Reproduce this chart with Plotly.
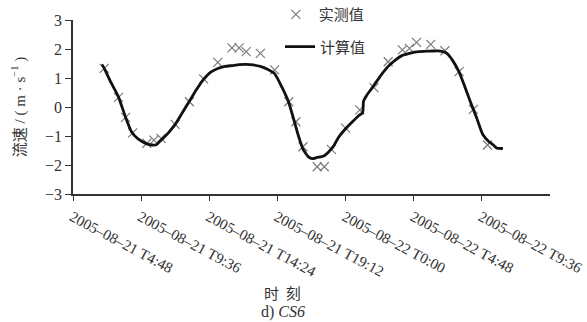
import plotly.graph_objects as go

# Observed (实测值)
obs_time = [
    "2005-08-21 07:00", "2005-08-21 08:00", "2005-08-21 08:30", "2005-08-21 09:00",
    "2005-08-21 10:00", "2005-08-21 10:30", "2005-08-21 11:00", "2005-08-21 12:00",
    "2005-08-21 13:00", "2005-08-21 14:00", "2005-08-21 15:00", "2005-08-21 16:00",
    "2005-08-21 16:30", "2005-08-21 17:00", "2005-08-21 18:00", "2005-08-21 19:00",
    "2005-08-21 20:00", "2005-08-21 20:30", "2005-08-21 21:00", "2005-08-21 22:00",
    "2005-08-21 22:30", "2005-08-21 23:00", "2005-08-22 00:00", "2005-08-22 01:00",
    "2005-08-22 02:00", "2005-08-22 03:00", "2005-08-22 04:00", "2005-08-22 04:30",
    "2005-08-22 05:00", "2005-08-22 06:00", "2005-08-22 07:00", "2005-08-22 08:00",
    "2005-08-22 09:00", "2005-08-22 10:00",
]
obs_val = [
    1.33, 0.33, -0.36, -0.89,
    -1.25, -1.14, -1.08, -0.60,
    0.18, 0.97, 1.54, 2.04,
    2.04, 1.91, 1.85, 1.28,
    0.18, -0.51, -1.37, -2.06,
    -2.06, -1.46, -0.73, -0.10,
    0.67, 1.56, 1.97, 2.02,
    2.23, 2.16, 1.94, 1.22,
    -0.08, -1.31,
]

# Computed (计算值)
calc_time = [
    "2005-08-21 06:50", "2005-08-21 07:00", "2005-08-21 07:25", "2005-08-21 08:00",
    "2005-08-21 08:30", "2005-08-21 08:55", "2005-08-21 09:23", "2005-08-21 10:00",
    "2005-08-21 10:23", "2005-08-21 10:40", "2005-08-21 11:00", "2005-08-21 11:30",
    "2005-08-21 12:00", "2005-08-21 12:30", "2005-08-21 13:00", "2005-08-21 13:30",
    "2005-08-21 14:00", "2005-08-21 14:30", "2005-08-21 15:00", "2005-08-21 15:30",
    "2005-08-21 16:00", "2005-08-21 16:30", "2005-08-21 17:00", "2005-08-21 17:30",
    "2005-08-21 18:00", "2005-08-21 18:30", "2005-08-21 19:00", "2005-08-21 19:30",
    "2005-08-21 20:00", "2005-08-21 20:20", "2005-08-21 20:41", "2005-08-21 21:00",
    "2005-08-21 21:23", "2005-08-21 21:40", "2005-08-21 22:00", "2005-08-21 22:14",
    "2005-08-21 22:30", "2005-08-21 22:48", "2005-08-21 23:09", "2005-08-21 23:30",
    "2005-08-22 00:00", "2005-08-22 00:30", "2005-08-22 00:55", "2005-08-22 01:12",
    "2005-08-22 01:16", "2005-08-22 01:29", "2005-08-22 02:00", "2005-08-22 02:30",
    "2005-08-22 03:00", "2005-08-22 03:30", "2005-08-22 04:00", "2005-08-22 04:30",
    "2005-08-22 05:00", "2005-08-22 05:30", "2005-08-22 06:00", "2005-08-22 06:42",
    "2005-08-22 07:08", "2005-08-22 07:33", "2005-08-22 08:00", "2005-08-22 08:24",
    "2005-08-22 08:49", "2005-08-22 09:15", "2005-08-22 09:40", "2005-08-22 10:06",
    "2005-08-22 10:23", "2005-08-22 10:40", "2005-08-22 11:05",
]
calc_val = [
    1.47, 1.33, 0.90, 0.35,
    -0.35, -0.85, -1.10, -1.27,
    -1.31, -1.30, -1.15, -0.90,
    -0.60, -0.20, 0.20, 0.60,
    0.95, 1.20, 1.33, 1.40,
    1.43, 1.46, 1.47, 1.45,
    1.40, 1.30, 1.15, 0.70,
    0.15, -0.40, -1.00, -1.45,
    -1.72, -1.78, -1.74, -1.72,
    -1.68, -1.55, -1.35, -1.05,
    -0.75, -0.50, -0.30, -0.20,
    0.20, 0.40, 0.75, 1.10,
    1.40, 1.62, 1.78, 1.85,
    1.90, 1.92, 1.93, 1.93,
    1.85, 1.60, 1.20, 0.70,
    0.15, -0.40, -0.95, -1.20,
    -1.30, -1.42, -1.43,
]

tick_vals = [
    "2005-08-21 04:48", "2005-08-21 09:36", "2005-08-21 14:24", "2005-08-21 19:12",
    "2005-08-22 00:00", "2005-08-22 04:48", "2005-08-22 09:36",
]
tick_text = [
    "2005–08–21 T4:48", "2005–08–21 T9:36", "2005–08–21 T14:24", "2005–08–21 T19:12",
    "2005–08–22 T0:00", "2005–08–22 T4:48", "2005–08–22 T9:36",
]
x_range = ["2005-08-21 04:48", "2005-08-22 14:24"]
y_ticks = [-3, -2, -1, 0, 1, 2, 3]
y_text = ["−3", "−2", "−1", "0", "1", "2", "3"]

SERIF = "Liberation Serif, Noto Sans CJK SC"
CJK = "Noto Sans CJK SC"

fig = go.Figure()
fig.add_trace(go.Scatter(
    x=obs_time, y=obs_val, mode="markers", name="实测值",
    marker=dict(symbol="x-thin", size=9, line=dict(width=1.2, color="#7a7a7a"), color="#7a7a7a"),
    legend="legend",
))
fig.add_trace(go.Scatter(
    x=calc_time, y=calc_val, mode="lines", name="计算值",
    line=dict(color="#111111", width=2.8, shape="spline", smoothing=0.5),
    legend="legend2",
))

fig.update_layout(
    width=587, height=322,
    margin=dict(l=73, r=37, t=20, b=128, autoexpand=False),
    paper_bgcolor="white", plot_bgcolor="white",
    font=dict(family=SERIF, size=13, color="#222222"),
    showlegend=True,
    legend=dict(x=0.419, y=1.126, xanchor="left", yanchor="top",
                font=dict(family=CJK, size=15, color="#333333"),
                bgcolor="rgba(0,0,0,0)", itemwidth=36),
    legend2=dict(x=0.434, y=0.94, xanchor="left", yanchor="top",
                 font=dict(family=CJK, size=15, color="#333333"),
                 bgcolor="rgba(0,0,0,0)", itemwidth=30),
    xaxis=dict(
        type="date", range=x_range, tickvals=tick_vals, ticktext=tick_text,
        tickangle=28, ticks="outside", ticklen=5, tickwidth=1.3, tickcolor="#333",
        ticklabelstandoff=2, ticklabelshift=-1, ticklabeloverflow="allow",
        showline=True, linecolor="#333", linewidth=1.5, showgrid=False, zeroline=False,
        tickfont=dict(family="Liberation Serif", size=15, color="#333"),
    ),
    yaxis=dict(
        range=[-3, 3], tickvals=y_ticks, ticktext=y_text,
        ticks="outside", ticklen=6, tickwidth=1.3, tickcolor="#333",
        showline=True, linecolor="#333", linewidth=1.5, showgrid=False, zeroline=False,
        tickfont=dict(family="Liberation Serif", size=16, color="#333"),
        title=dict(text="流速 / ( m · s<sup>−1</sup> )", standoff=16,
                   font=dict(family=SERIF, size=15, color="#333")),
    ),
    annotations=[
        dict(text="时  刻", x=0.44, y=-0.565, xref="paper", yref="paper",
             showarrow=False, yanchor="middle",
             font=dict(family=CJK, size=15, color="#333")),
        dict(text="d) <i>CS6</i>", x=0.44, y=-0.68, xref="paper", yref="paper",
             showarrow=False, yanchor="middle",
             font=dict(family="Liberation Serif", size=16, color="#333")),
    ],
)

# remove the browser's default 8px body margin so the figure fills the window exactly
fig.write_html("out.html", config={"displayModeBar": False},
               post_script="document.body.style.margin='0px';")
